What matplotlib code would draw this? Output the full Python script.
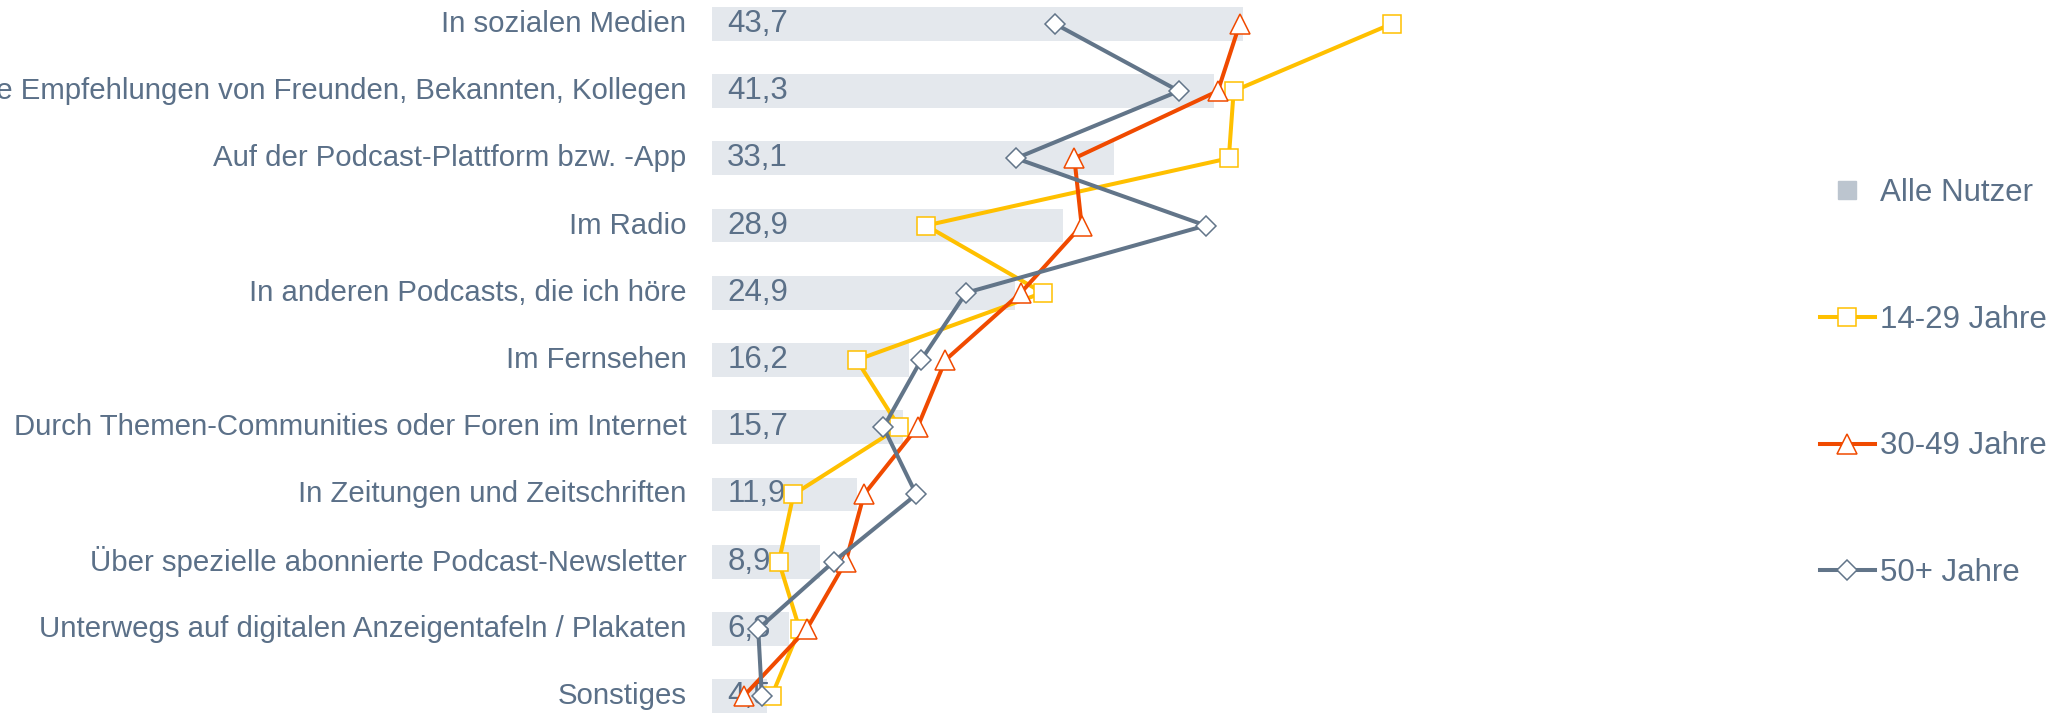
import matplotlib
matplotlib.use("Agg")
import matplotlib.pyplot as plt
from matplotlib.lines import Line2D

plt.rcParams['font.family'] = ['Liberation Sans', 'DejaVu Sans']

categories = [
    "In sozialen Medien",
    "Durch persönliche Empfehlungen von Freunden, Bekannten, Kollegen",
    "Auf der Podcast-Plattform bzw. -App",
    "Im Radio",
    "In anderen Podcasts, die ich höre",
    "Im Fernsehen",
    "Durch Themen-Communities oder Foren im Internet",
    "In Zeitungen und Zeitschriften",
    "Über spezielle abonnierte Podcast-Newsletter",
    "Unterwegs auf digitalen Anzeigentafeln / Plakaten",
    "Sonstiges",
]
alle_nutzer = [43.7, 41.3, 33.1, 28.9, 24.9, 16.2, 15.7, 11.9, 8.9, 6.3, 4.5]
jahre_14_29 = [55.9, 42.9, 42.5, 17.6, 27.2, 11.9, 15.4, 6.7, 5.5, 7.2, 4.9]
jahre_30_49 = [43.4, 41.6, 29.8, 30.4, 25.4, 19.2, 16.9, 12.5, 11.0, 7.8, 2.6]
jahre_50plus = [28.2, 38.4, 25.0, 40.6, 20.9, 17.2, 14.1, 16.8, 10.0, 3.8, 4.1]
series_labels = ["Alle Nutzer", "14-29 Jahre", "30-49 Jahre", "50+ Jahre"]

TEXT = "#5B7088"
BAR = "#E4E8ED"
BAR_LEG = "#BCC5CF"
YEL = "#FFC000"
ORG = "#F04A00"
SLATE = "#627589"

W, H = 2063, 713
fig = plt.figure(figsize=(W / 100, H / 100), dpi=100)
x0 = 712 / W
px_per_unit = 12.16
xmax = 60
ax = fig.add_axes([x0, 0.0, xmax * px_per_unit / W, 706 / H])
ax.set_xlim(0, xmax)
ax.set_ylim(10.25, -0.25)
ax.axis('off')

ypos = list(range(len(categories)))
ax.barh(ypos, alle_nutzer, height=0.5, color=BAR, zorder=1)

for y, v in zip(ypos, alle_nutzer):
    ax.annotate(f"{v:.1f}".replace('.', ','), xy=(0, y), xytext=(11, 0),
                textcoords='offset points', ha='left', va='center',
                fontsize=22.5, color=TEXT, zorder=2)
    ax.annotate(categories[y], xy=(0, y), xytext=(-18.5, 0),
                textcoords='offset points', ha='right', va='center',
                fontsize=21.2, color=TEXT, annotation_clip=False)

LW = 2.9
common = dict(lw=LW, markerfacecolor='white', markeredgewidth=1.1, clip_on=False)
ax.plot(jahre_14_29, ypos, color=YEL, marker='s', markersize=13,
        markeredgecolor=YEL, zorder=3, **common)
ax.plot(jahre_30_49, ypos, color=ORG, marker='^', markersize=14,
        markeredgecolor=ORG, zorder=4, **common)
ax.plot(jahre_50plus, ypos, color=SLATE, marker='D', markersize=10,
        markeredgecolor=SLATE, zorder=5, **common)

handles = [
    Line2D([], [], ls='none', marker='s', markersize=13, color=BAR_LEG),
    Line2D([], [], color=YEL, lw=LW, marker='s', markersize=13,
           markerfacecolor='white', markeredgecolor=YEL, markeredgewidth=1.1),
    Line2D([], [], color=ORG, lw=LW, marker='^', markersize=14,
           markerfacecolor='white', markeredgecolor=ORG, markeredgewidth=1.1),
    Line2D([], [], color=SLATE, lw=LW, marker='D', markersize=10,
           markerfacecolor='white', markeredgecolor=SLATE, markeredgewidth=1.1),
]
fig.legend(handles, series_labels, loc='center left',
           bbox_to_anchor=(1820 / W, 1 - 383 / H), frameon=False,
           fontsize=22.5, labelcolor=TEXT, handlelength=1.75, handletextpad=0.17,
           labelspacing=3.1, borderpad=0, borderaxespad=0)

fig.savefig("out.png", dpi=100)
